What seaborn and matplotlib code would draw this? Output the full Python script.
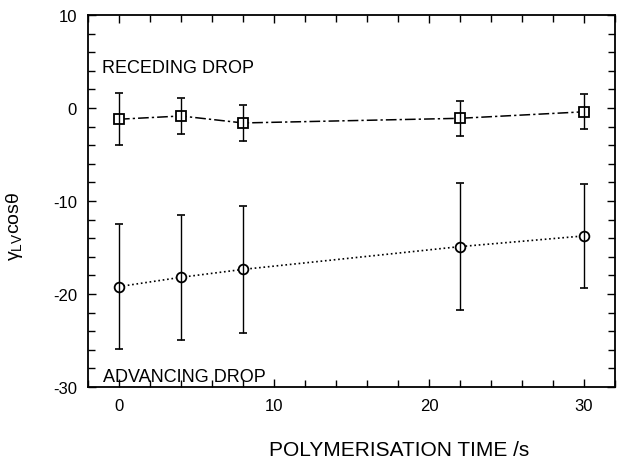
import matplotlib
matplotlib.use("Agg")
import matplotlib.pyplot as plt
import seaborn as sns
import pandas as pd
from matplotlib.ticker import MultipleLocator

time_s = [0, 4, 8, 22, 30]
receding = [-1.2, -0.85, -1.6, -1.1, -0.4]
receding_err = [2.8, 1.9, 1.9, 1.9, 1.9]
advancing = [-19.2, -18.2, -17.35, -14.9, -13.75]
advancing_err = [6.7, 6.7, 6.8, 6.85, 5.55]

sns.set_theme(style="ticks")
plt.rcParams['font.family'] = ['Liberation Sans', 'DejaVu Sans']
plt.rcParams['mathtext.fontset'] = 'custom'
plt.rcParams['mathtext.rm'] = 'Liberation Sans'
plt.rcParams['mathtext.it'] = 'Liberation Sans:italic'
plt.rcParams['axes.unicode_minus'] = False
plt.rcParams['text.color'] = 'black'
plt.rcParams['axes.labelcolor'] = 'black'
plt.rcParams['xtick.color'] = 'black'
plt.rcParams['ytick.color'] = 'black'

fig, ax = plt.subplots(figsize=(6.18, 4.6), dpi=100)
fig.subplots_adjust(left=0.1424, right=0.995, top=0.965, bottom=0.1565)

df_r = pd.DataFrame({"t": time_s, "y": receding})
df_a = pd.DataFrame({"t": time_s, "y": advancing})

sns.lineplot(data=df_r, x="t", y="y", ax=ax, color="black", lw=1.1,
             marker="s", markersize=7, markerfacecolor="white",
             markeredgecolor="black", markeredgewidth=1.3)
ax.lines[-1].set_dashes([7, 2, 1.5, 2])
sns.lineplot(data=df_a, x="t", y="y", ax=ax, color="black", lw=1.2,
             linestyle=":", marker="o", markersize=7, markerfacecolor="white",
             markeredgecolor="black", markeredgewidth=1.3)

ax.errorbar(time_s, receding, yerr=receding_err, fmt="none", ecolor="black",
            elinewidth=1.0, capsize=3, capthick=1.2)
ax.errorbar(time_s, advancing, yerr=advancing_err, fmt="none", ecolor="black",
            elinewidth=1.0, capsize=3, capthick=1.2)

ax.set_xlim(-2, 32)
ax.set_ylim(-30, 10)
ax.xaxis.set_major_locator(MultipleLocator(10))
ax.xaxis.set_minor_locator(MultipleLocator(2))
ax.yaxis.set_major_locator(MultipleLocator(10))
ax.yaxis.set_minor_locator(MultipleLocator(2))
ax.tick_params(which="both", direction="in", top=True, right=True,
               labelsize=12, width=1, color="black", labelcolor="black")
ax.tick_params(which="major", length=6, pad=8)
ax.tick_params(which="minor", length=5)
for s in ax.spines.values():
    s.set_linewidth(1.3)
    s.set_color("black")

ax.set_xlabel("POLYMERISATION TIME /s", fontsize=15)
ax.set_ylabel(r"γ$_{\mathrm{LV}}$cosθ", fontsize=14)
ax.xaxis.set_label_coords(0.59, -0.167)
ax.yaxis.set_label_coords(-0.140, 0.435)
ax.xaxis.label.set_va("center")
ax.yaxis.label.set_va("center")

ax.text(-1.1, 4.4, "RECEDING DROP", fontsize=13, ha="left", va="center")
ax.text(-1.05, -28.9, "ADVANCING DROP", fontsize=13, ha="left", va="center")

fig.savefig("out.png", dpi=100)
